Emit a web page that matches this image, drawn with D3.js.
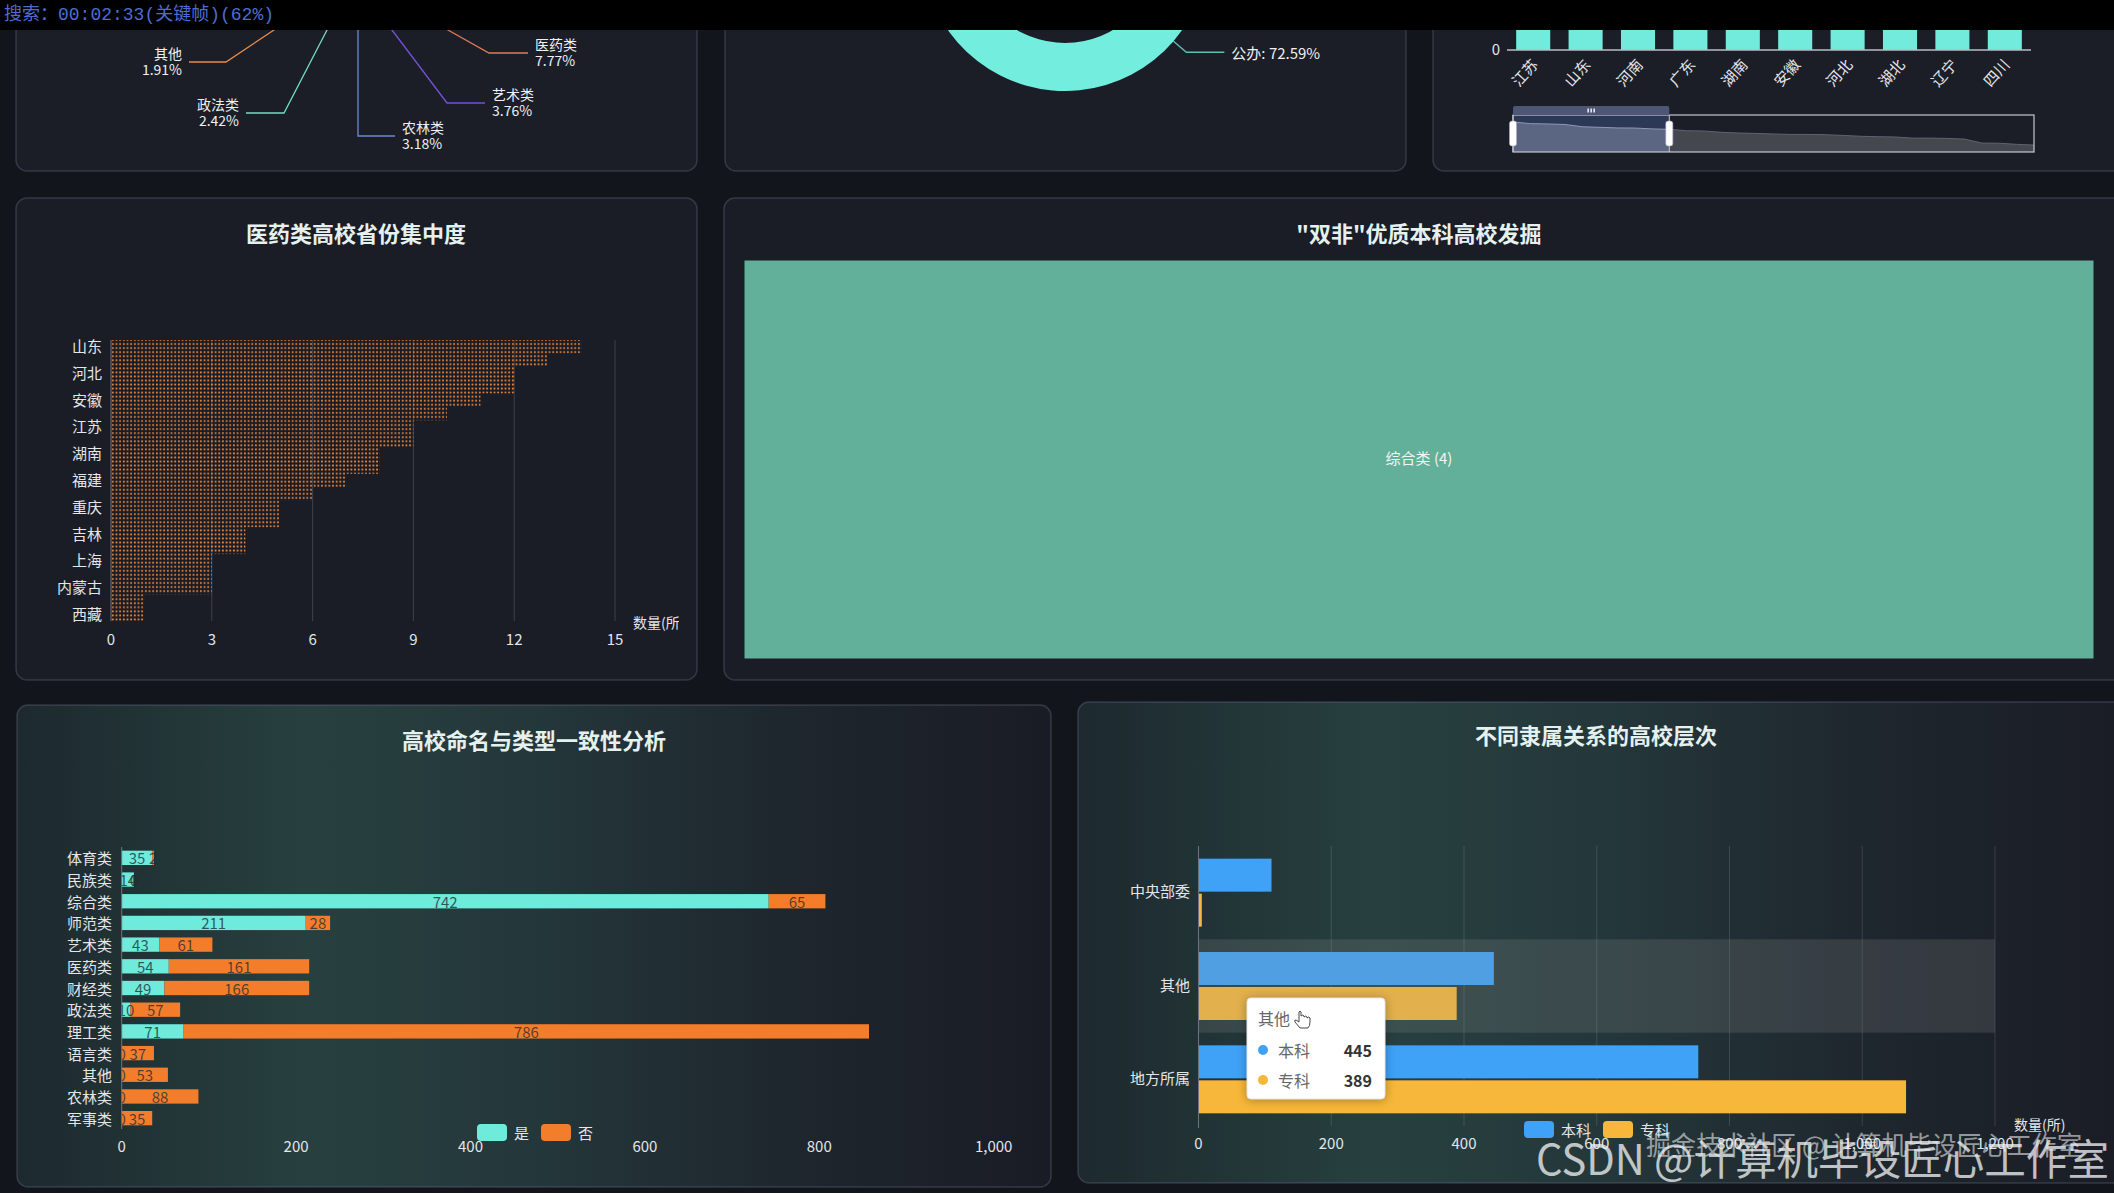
<!DOCTYPE html>
<html><head><meta charset="utf-8"><title>高校数据大屏</title>
<script src="https://cdn.jsdelivr.net/npm/d3@7/dist/d3.min.js"></script>
<style>html,body{margin:0;padding:0;background:#13151d;overflow:hidden}svg{display:block}</style>
</head><body><svg id="chart" width="2114" height="1193"></svg>
<script>
// ================= DATA =================
// 高校命名与类型一致性分析 (also feeds the type pie at the top-left)
const nameCategories = ["体育类","民族类","综合类","师范类","艺术类","医药类","财经类","政法类","理工类","语言类","其他","农林类","军事类"];
const nameMatchYes = [35,14,742,211,43,54,49,10,71,0,0,0,0];
const nameMatchNo  = [2,0,65,28,61,161,166,57,786,37,53,88,35];
const nameTicks = [0,200,400,600,800,1000];
const nameLegend = ["是","否"];

// pie labels visible below the top bar
const pieLabelCats = ["其他","政法类","农林类","艺术类","医药类"];

// 公办 / 民办 donut
const ownershipCats = ["公办","民办"];
const ownershipShares = [72.59,27.41];

// province bar chart with a dataZoom slider (window 0%–30%)
const provinceCats = ["江苏","山东","河南","广东","湖南","安徽","河北","湖北","辽宁","四川","浙江","江西","陕西","北京","福建","广西","山西","云南","黑龙江","贵州","重庆","吉林","上海","天津","新疆","内蒙古","甘肃","海南","宁夏","青海","西藏"];
const provinceCounts = [170,158,156,152,136,132,128,127,121,118,108,106,97,92,89,85,82,82,80,75,69,66,64,56,56,54,49,21,20,12,7];
const provinceWindow = [0,30];

// 医药类高校省份集中度
const medProvinces = ["山东","河南","河北","广东","安徽","四川","江苏","辽宁","湖南","湖北","福建","江西","重庆","黑龙江","吉林","陕西","上海","广西","内蒙古","青海","西藏"];
const medCounts = [14,13,12,12,11,10,9,9,8,8,7,6,5,5,4,4,3,3,3,1,1];
const medTicks = [0,3,6,9,12,15];

// "双非"优质本科高校发掘 treemap
const treemapCats = ["综合类"];
const treemapValues = [4];

// 不同隶属关系的高校层次
const affiliationCats = ["中央部委","其他","地方所属"];
const levelUndergrad = [110,445,753];
const levelJunior = [5,389,1066];
const levelTicks = [0,200,400,600,800,1000,1200];
const levelLegend = ["本科","专科"];
const tooltipCat = "其他";

// ================= DRAWING =================
const FONT = '"Noto Sans CJK SC","Noto Sans",sans-serif';
const svg = d3.select("#chart");
const defs = svg.append("defs");

function txt(g, x, y, s, o = {}) {
  return g.append("text").attr("x", x).attr("y", y).text(s)
    .attr("font-family", o.family || FONT)
    .attr("font-size", o.size || 15)
    .attr("font-weight", o.weight || "normal")
    .attr("fill", o.fill || "#e4e6ea")
    .attr("text-anchor", o.anchor || "start")
    .attr("dominant-baseline", "central");
}

svg.append("rect").attr("width", 2114).attr("height", 1193).attr("fill", "#13151d");

// gradient for bottom panels
const gb = defs.append("linearGradient").attr("id", "gBot").attr("x1", 0).attr("y1", 0).attr("x2", 1).attr("y2", 0);
[[0, "#1d292e"], [0.28, "#27403f"], [0.5, "#24373a"], [0.75, "#1e262e"], [1, "#1a1c25"]]
  .forEach(([o, c]) => gb.append("stop").attr("offset", o).attr("stop-color", c));

function panel(x, y, w, h, fill) {
  svg.append("rect").attr("x", x).attr("y", y).attr("width", w).attr("height", h)
    .attr("rx", 11).attr("fill", fill).attr("stroke", "rgba(130,140,160,0.28)").attr("stroke-width", 1.5);
}
panel(16, -20, 681, 191, "#1b1d27");
panel(725, -20, 681, 191, "#1b1d27");
panel(1433, -20, 700, 191, "#1b1d27");
panel(16, 198, 681, 482, "#1a1c26");
panel(724, 198, 1410, 482, "#1a1c26");
panel(17, 705, 1034, 482, "url(#gBot)");
panel(1078, 702, 1060, 481, "url(#gBot)");

// ---------- top-left: type pie (mostly hidden under top bar) ----------
const pieTotals = nameCategories.map((c, i) => nameMatchYes[i] + nameMatchNo[i]);
const pieSum = d3.sum(pieTotals);
const pieColor = d3.scaleOrdinal().domain(nameCategories)
  .range(["#5b9bd5", "#9bc46a", "#4fc1e9", "#f6c85f", "#7552d6", "#e27b52", "#8dd3c7", "#74dbc9", "#3f7fd8", "#c9a0dc", "#e58c4b", "#6a8bd0", "#b0b0b0"]);
const pieG = svg.append("g").attr("transform", "translate(356,-150)");
const pieArcs = d3.pie().sort(null)(pieTotals);
pieG.selectAll("path").data(pieArcs).join("path")
  .attr("d", d3.arc().innerRadius(0).outerRadius(175))
  .attr("fill", (d, i) => pieColor(nameCategories[i]));
const pieLabelLayout = {
  "其他":   { x0: 274, ex: 226, ey: 62,  x1: 189 },
  "政法类": { x0: 327, ex: 284, ey: 113, x1: 246 },
  "农林类": { x0: 358, ex: 358, ey: 136, x1: 395 },
  "艺术类": { x0: 392, ex: 447, ey: 103, x1: 485 },
  "医药类": { x0: 448, ex: 489, ey: 53,  x1: 528 }
};
pieLabelCats.forEach(cat => {
  const L = pieLabelLayout[cat], i = nameCategories.indexOf(cat);
  const pct = d3.format(".2f")(pieTotals[i] / pieSum * 100) + "%";
  const xs = L.x0 + (L.x0 - L.ex) * 6 / (L.ey - 30);
  svg.append("path").attr("d", `M${xs},24L${L.ex},${L.ey}L${L.x1},${L.ey}`)
    .attr("fill", "none").attr("stroke", pieColor(cat)).attr("stroke-width", 1.3);
  const left = L.x1 < L.ex;
  const tx = left ? L.x1 - 7 : L.x1 + 7, an = left ? "end" : "start";
  txt(svg, tx, L.ey - 9, cat, { size: 14, anchor: an, fill: "#eef0f2" });
  txt(svg, tx, L.ey + 7, pct, { size: 14, anchor: an, fill: "#eef0f2" });
});

// ---------- top-middle: ownership donut ----------
const donutC = [1065, -52], R = 143, r0 = 95;
const donutG = svg.append("g").attr("transform", `translate(${donutC[0]},${donutC[1]})`);
const donutArcs = d3.pie().sort(null)(ownershipShares);
const donutColors = ["#73eddd", "#3f7ee8"];
donutG.selectAll("path").data(donutArcs).join("path")
  .attr("d", d3.arc().innerRadius(r0).outerRadius(R)).attr("fill", (d, i) => donutColors[i]);
donutArcs.forEach((a, i) => {
  const m = (a.startAngle + a.endAngle) / 2;
  const p1 = [Math.sin(m) * R, -Math.cos(m) * R], p2 = [Math.sin(m) * (R + 17), -Math.cos(m) * (R + 17)];
  const right = Math.sin(m) > 0;
  const p3 = [p2[0] + (right ? 38 : -38), p2[1]];
  donutG.append("path").attr("d", `M${p1}L${p2}L${p3}`).attr("fill", "none").attr("stroke", "#5fbfb3").attr("stroke-width", 1.3);
  txt(donutG, p3[0] + (right ? 7 : -7), p3[1], `${ownershipCats[i]}: ${ownershipShares[i]}%`, { size: 15, anchor: right ? "start" : "end", fill: "#eef0f2" });
});

// ---------- top-right: province bars + slider ----------
const nShown = Math.floor((provinceCats.length - 1) * provinceWindow[1] / 100) + 1;
const shownCats = provinceCats.slice(0, nShown);
const px = d3.scaleBand().domain(shownCats).range([1507, 2031]).paddingInner(0.35).paddingOuter(0.175);
const py = d3.scaleLinear().domain([0, 200]).range([50, -150]);
svg.append("g").selectAll("rect").data(shownCats).join("rect")
  .attr("x", d => px(d)).attr("width", px.bandwidth())
  .attr("y", d => py(provinceCounts[provinceCats.indexOf(d)]))
  .attr("height", d => py(0) - py(provinceCounts[provinceCats.indexOf(d)]))
  .attr("fill", "#72ebdc");
svg.append("line").attr("x1", 1507).attr("x2", 2031).attr("y1", 50).attr("y2", 50).attr("stroke", "#b9bcc4").attr("stroke-width", 1.5);
txt(svg, 1500, 48, "0", { size: 15, anchor: "end" });
shownCats.forEach(c => {
  const cx = px(c) + px.bandwidth() / 2;
  svg.append("text").text(c).attr("transform", `translate(${cx + 1},61) rotate(-48)`)
    .attr("text-anchor", "end").attr("dominant-baseline", "central")
    .attr("font-family", FONT).attr("font-size", 15).attr("fill", "#e4e6ea");
});
// slider
const sl = { x0: 1513, x1: 2034, y0: 115, y1: 152 };
const sx = d3.scaleLinear().domain([0, provinceCats.length - 1]).range([sl.x0, sl.x1]);
const ext = d3.extent(provinceCounts), off = (ext[1] - ext[0]) * 0.3;
const sy = d3.scaleLinear().domain([ext[0] - off, ext[1] + off]).range([sl.y1, sl.y0]);
const selX = d3.scaleLinear().domain([0, 100]).range([sl.x0, sl.x1]);
const s0 = selX(provinceWindow[0]), s1 = selX(provinceWindow[1]);
defs.append("clipPath").attr("id", "clipSel").append("rect").attr("x", s0).attr("y", sl.y0).attr("width", s1 - s0).attr("height", sl.y1 - sl.y0);
defs.append("clipPath").attr("id", "clipUns").append("rect").attr("x", s1).attr("y", sl.y0).attr("width", sl.x1 - s1).attr("height", sl.y1 - sl.y0);
svg.append("rect").attr("x", s0).attr("y", sl.y0).attr("width", s1 - s0).attr("height", sl.y1 - sl.y0).attr("fill", "#2c3856");
const area = d3.area().x((d, i) => sx(i)).y0(sl.y1).y1(d => sy(d));
const line = d3.line().x((d, i) => sx(i)).y(d => sy(d));
svg.append("path").attr("d", area(provinceCounts)).attr("fill", "#5b6782").attr("clip-path", "url(#clipSel)");
svg.append("path").attr("d", line(provinceCounts)).attr("fill", "none").attr("stroke", "#8e98b4").attr("clip-path", "url(#clipSel)");
svg.append("path").attr("d", area(provinceCounts)).attr("fill", "#45474f").attr("clip-path", "url(#clipUns)");
svg.append("path").attr("d", line(provinceCounts)).attr("fill", "none").attr("stroke", "#60636e").attr("clip-path", "url(#clipUns)");
svg.append("rect").attr("x", sl.x0).attr("y", sl.y0).attr("width", sl.x1 - sl.x0).attr("height", sl.y1 - sl.y0)
  .attr("fill", "none").attr("stroke", "#c3c8d6").attr("stroke-width", 1.2);
svg.append("path").attr("d", `M${s0},${sl.y0}V108Q${s0},106 ${s0 + 2},106H${s1 - 2}Q${s1},106 ${s1},108V${sl.y0}Z`).attr("fill", "#4d5675");
[-3, 0, 3].forEach(d => svg.append("line").attr("x1", (s0 + s1) / 2 + d).attr("x2", (s0 + s1) / 2 + d).attr("y1", 108.5).attr("y2", 112.5).attr("stroke", "#fff").attr("stroke-width", 1.4));
[s0, s1].forEach(xh => {
  svg.append("line").attr("x1", xh).attr("x2", xh).attr("y1", sl.y0).attr("y2", sl.y1).attr("stroke", "#c3c8d6");
  svg.append("rect").attr("x", xh - 3.5).attr("y", 121).attr("width", 7).attr("height", 25).attr("rx", 2.5)
    .attr("fill", "#fff").attr("stroke", "#aab").attr("stroke-width", 0.6);
});

// ---------- titles ----------
[["医药类高校省份集中度", 356, 232], ["\"双非\"优质本科高校发掘", 1419, 232], ["高校命名与类型一致性分析", 534, 739], ["不同隶属关系的高校层次", 1596, 734]]
  .forEach(([t, x, y]) => txt(svg, x, y, t, { size: 22, weight: "bold", anchor: "middle", fill: "#e4f1ef" }));

// ---------- mid-left: dotted pictorial bars ----------
const pat = defs.append("pattern").attr("id", "dots").attr("patternUnits", "userSpaceOnUse")
  .attr("x", 111).attr("y", 342).attr("width", 3.67).attr("height", 4.05);
pat.append("circle").attr("cx", 1.8).attr("cy", 2).attr("r", 0.95).attr("fill", "#f28a3a");
const mx = d3.scaleLinear().domain([0, 15]).range([111, 615]);
const my = d3.scaleBand().domain(medProvinces).range([340, 621]);
const mg = svg.append("g");
medTicks.slice(1).forEach(t => mg.append("line").attr("x1", mx(t)).attr("x2", mx(t)).attr("y1", 340).attr("y2", 621).attr("stroke", "rgba(255,255,255,0.16)"));
mg.selectAll("rect.bar").data(medProvinces).join("rect").attr("class", "bar")
  .attr("x", mx(0)).attr("y", d => my(d)).attr("height", my.bandwidth())
  .attr("width", (d, i) => mx(medCounts[i]) - mx(0)).attr("fill", "url(#dots)");
mg.append("line").attr("x1", mx(0)).attr("x2", mx(0)).attr("y1", 340).attr("y2", 621).attr("stroke", "#70737d");
medTicks.forEach(t => txt(mg, mx(t), 638, t, { size: 15, anchor: "middle" }));
medProvinces.forEach((p, i) => { if (i % 2 === 0) txt(mg, 102, my(p) + my.bandwidth() / 2 - 1, p, { size: 15, anchor: "end" }); });
defs.append("clipPath").attr("id", "clipMed").append("rect").attr("x", 16).attr("y", 198).attr("width", 663).attr("height", 482);
txt(mg, 633, 622, "数量(所)", { size: 14 }).attr("clip-path", "url(#clipMed)");

// ---------- mid-right: treemap ----------
const root = d3.hierarchy({ children: treemapCats.map((c, i) => ({ name: c, value: treemapValues[i] })) }).sum(d => d.value || 0);
d3.treemap().size([1350, 399]).padding(0)(root);
const tg = svg.append("g").attr("transform", "translate(744,260)");
root.leaves().forEach(l => {
  tg.append("rect").attr("x", l.x0).attr("y", l.y0).attr("width", l.x1 - l.x0).attr("height", l.y1 - l.y0)
    .attr("fill", "#62b09a").attr("stroke", "#1a1c26").attr("stroke-width", 1);
  txt(tg, (l.x0 + l.x1) / 2, (l.y0 + l.y1) / 2 - 2, `${l.data.name} (${l.data.value})`, { size: 15, anchor: "middle", fill: "#f2f5f4" });
});

// ---------- bottom-left: stacked bars ----------
const bx = d3.scaleLinear().domain([0, 1000]).range([121.7, 993.7]);
const by = d3.scaleBand().domain(nameCategories).range([847, 1129]);
const bg = svg.append("g");
const bh = by.bandwidth() * 0.66, boff = (by.bandwidth() - bh) / 2;
const nameColors = ["#6eebdb", "#f47d2c"];
nameCategories.forEach((c, i) => {
  const y = by(c) + boff;
  const segs = [[0, nameMatchYes[i]], [nameMatchYes[i], nameMatchYes[i] + nameMatchNo[i]]];
  segs.forEach(([a, b], k) => {
    bg.append("rect").attr("x", bx(a)).attr("y", y).attr("width", bx(b) - bx(a)).attr("height", bh).attr("fill", nameColors[k]);
  });
  segs.forEach(([a, b], k) => {
    txt(bg, (bx(a) + bx(b)) / 2, y + bh / 2, b - a, { size: 15, anchor: "middle", fill: "rgba(30,45,50,0.78)" });
  });
  txt(bg, 112, by(c) + by.bandwidth() / 2, c, { size: 15, anchor: "end" });
});
bg.append("line").attr("x1", bx(0)).attr("x2", bx(0)).attr("y1", 847).attr("y2", 1129).attr("stroke", "#70737d");
nameTicks.forEach(t => txt(bg, bx(t), 1145, d3.format(",")(t), { size: 15, anchor: "middle" }));
nameLegend.forEach((n, k) => {
  const lx = 477 + k * 64;
  bg.append("rect").attr("x", lx).attr("y", 1124).attr("width", 30).attr("height", 17).attr("rx", 4).attr("fill", nameColors[k]);
  txt(bg, lx + 37, 1132, n, { size: 15 });
});

// ---------- bottom-right: grouped bars ----------
const rx = d3.scaleLinear().domain([0, 1200]).range([1198.5, 1995]);
const ry = d3.scaleBand().domain(affiliationCats).range([846, 1126]);
const rg = svg.append("g");
const levelColors = ["#3fa2f6", "#f6b73a"];
levelTicks.slice(1).forEach(t => rg.append("line").attr("x1", rx(t)).attr("x2", rx(t)).attr("y1", 846).attr("y2", 1126).attr("stroke", "rgba(255,255,255,0.13)"));
const barH = 33, gap = 2, grpOff = (ry.bandwidth() - (2 * barH + gap)) / 2;
[levelUndergrad, levelJunior].forEach((vals, k) => {
  rg.selectAll(null).data(affiliationCats).join("rect")
    .attr("x", rx(0)).attr("y", d => ry(d) + grpOff + k * (barH + gap))
    .attr("width", (d, i) => rx(vals[i]) - rx(0)).attr("height", barH).attr("fill", levelColors[k]);
});
rg.append("rect").attr("x", rx(0)).attr("y", ry(tooltipCat)).attr("width", rx(1200) - rx(0)).attr("height", ry.bandwidth())
  .attr("fill", "rgba(150,150,150,0.2)");
rg.append("line").attr("x1", rx(0)).attr("x2", rx(0)).attr("y1", 846).attr("y2", 1128).attr("stroke", "#70737d");
affiliationCats.forEach(c => txt(rg, 1190, ry(c) + ry.bandwidth() / 2 - 2, c, { size: 15, anchor: "end" }));
levelTicks.forEach(t => txt(rg, rx(t), 1142, d3.format(",")(t), { size: 15, anchor: "middle" }));
txt(rg, 2014, 1124, "数量(所)", { size: 14 });
levelLegend.forEach((n, k) => {
  const lx = 1524 + k * 79;
  rg.append("rect").attr("x", lx).attr("y", 1121).attr("width", 30).attr("height", 17).attr("rx", 4).attr("fill", levelColors[k]);
  txt(rg, lx + 37, 1129, n, { size: 15 });
});
// tooltip
const ti = affiliationCats.indexOf(tooltipCat);
const tt = svg.append("g").attr("transform", "translate(1247,998)");
tt.append("rect").attr("width", 138).attr("height", 101).attr("rx", 4).attr("fill", "#fff")
  .attr("stroke", "#e6e6e6").style("filter", "drop-shadow(0 1px 5px rgba(0,0,0,0.3))");
txt(tt, 11, 20, tooltipCat, { size: 16, fill: "#666" });
[levelUndergrad, levelJunior].forEach((vals, k) => {
  const yy = 52 + k * 30;
  tt.append("circle").attr("cx", 16).attr("cy", yy).attr("r", 5).attr("fill", levelColors[k]);
  txt(tt, 31, yy, levelLegend[k], { size: 16, fill: "#666" });
  txt(tt, 125, yy, vals[ti], { size: 16, fill: "#333", weight: "bold", anchor: "end" });
});
// pointer cursor hint
tt.append("path").attr("d", "M52,14 v10 l-3,-2 q-2,0 -1,2 l5,6 h8 q2,-2 2,-6 v-4 q-1,-2 -3,0 v-1 q-1,-2 -3,0 v-1 q-1,-2 -3,0 v-4 q-1,-2 -2,0 z")
  .attr("fill", "#fff").attr("stroke", "#333").attr("stroke-width", 0.9);

// ---------- watermarks ----------
txt(svg, 1646, 1143, "掘金技术社区 @ 计算机毕设匠心工作室", { size: 26, fill: "rgba(255,255,255,0.55)" })
  .attr("textLength", 436).attr("lengthAdjust", "spacingAndGlyphs");
txt(svg, 1536, 1156, "CSDN @计算机毕设匠心工作室", { size: 42, fill: "rgba(236,238,240,0.8)" })
  .attr("textLength", 573).attr("lengthAdjust", "spacingAndGlyphs");

// ---------- top video bar ----------
svg.append("rect").attr("x", 0).attr("y", 0).attr("width", 2114).attr("height", 30).attr("fill", "#000");
txt(svg, 4, 15, "搜索：00:02:33(关键帧)(62%)", { size: 18, fill: "#4a6ed6", family: '"Liberation Mono","Noto Sans CJK SC",monospace' });
</script></body></html>
